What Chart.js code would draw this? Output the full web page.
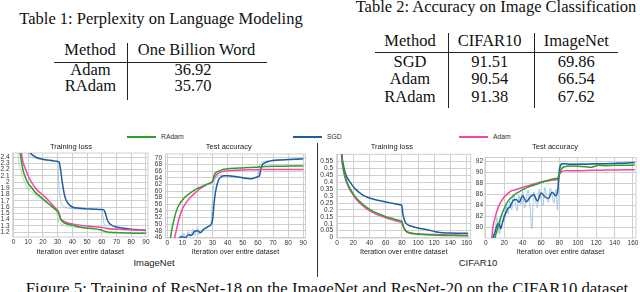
<!DOCTYPE html>
<html>
<head>
<meta charset="utf-8">
<script src="https://cdn.jsdelivr.net/npm/chart.js@4.4.1/dist/chart.umd.min.js"></script>
<style>
  html, body { margin: 0; padding: 0; background: #fff; }
  body { width: 640px; height: 292px; position: relative; overflow: hidden; }
  .txt { position: absolute; white-space: nowrap; }
  .rule { position: absolute; background: #222; }
  canvas { position: absolute; }
</style>
</head>
<body>
<script>
// ---- table data ----
const table1Title = "Table 1: Perplexity on Language Modeling";
const table1Head = ["Method", "One Billion Word"];
const table1Rows = [["Adam", "36.92"], ["RAdam", "35.70"]];

const table2Title = "Table 2: Accuracy on Image Classification";
const table2Head = ["Method", "CIFAR10", "ImageNet"];
const table2Rows = [["SGD", "91.51", "69.86"], ["Adam", "90.54", "66.54"], ["RAdam", "91.38", "67.62"]];

const seriesNames = ["RAdam", "SGD", "Adam"];

// ---- ImageNet training loss ----
const imgLossEpochs = [0, 2, 4, 6, 8, 10, 12, 15, 18, 21, 24, 27, 29, 30, 31, 32, 33, 35, 37, 40, 45, 50, 55, 59, 60, 61, 62, 64, 66, 70, 75, 80, 85, 90];
const imgLossSGD   = [6.9, 5.5, 4.2, 3.3, 2.8, 2.52, 2.45, 2.40, 2.375, 2.36, 2.35, 2.34, 2.333, 2.328, 2.32, 2.2, 2.02, 1.76, 1.66, 1.6, 1.58, 1.57, 1.565, 1.56, 1.56, 1.558, 1.53, 1.38, 1.32, 1.28, 1.26, 1.245, 1.235, 1.225];
const imgLossAdam  = [6.9, 4.8, 2.9, 2.38, 2.22, 2.1, 2.005, 1.9, 1.83, 1.77, 1.7, 1.62, 1.57, 1.55, 1.5, 1.42, 1.39, 1.36, 1.345, 1.33, 1.31, 1.295, 1.285, 1.275, 1.272, 1.27, 1.262, 1.253, 1.248, 1.243, 1.238, 1.235, 1.232, 1.23];
const imgLossRAdam = [6.9, 4.3, 2.7, 2.25, 2.08, 1.98, 1.92, 1.83, 1.77, 1.71, 1.65, 1.59, 1.55, 1.53, 1.48, 1.41, 1.37, 1.34, 1.325, 1.31, 1.28, 1.265, 1.25, 1.235, 1.23, 1.222, 1.212, 1.2, 1.195, 1.19, 1.186, 1.183, 1.18, 1.178];
const imgLossRawSGDEpochs = [8, 10, 15, 20, 25, 29, 30, 31, 32, 33, 35, 40, 50, 60, 61, 62, 64, 70, 80, 90];
const imgLossRawSGD       = [2.6, 2.44, 2.38, 2.355, 2.34, 2.33, 2.33, 1.9, 1.7, 1.63, 1.595, 1.575, 1.565, 1.56, 1.4, 1.3, 1.27, 1.245, 1.23, 1.22];
const imgLossRawRAdamEpochs = [2, 3, 5, 8, 10, 15, 20, 25, 29, 30, 31, 33, 40, 50, 60, 61, 63, 70, 90];
const imgLossRawRAdam       = [3.2, 2.5, 2.2, 1.98, 1.9, 1.79, 1.71, 1.63, 1.56, 1.45, 1.36, 1.32, 1.285, 1.255, 1.225, 1.2, 1.19, 1.183, 1.175];
const imgLossXTicks = [0, 10, 20, 30, 40, 50, 60, 70, 80, 90];
const imgLossYTicks = [1.2, 1.3, 1.4, 1.5, 1.6, 1.7, 1.8, 1.9, 2.0, 2.1, 2.2, 2.3, 2.4];

// ---- ImageNet test accuracy ----
const imgAccEpochs = [0, 2, 4, 6, 8, 10, 12, 14, 16, 18, 20, 22, 24, 26, 28, 29, 30, 31, 32, 34, 36, 38, 40, 45, 50, 53, 56, 59, 61, 62, 63, 64, 66, 70, 75, 80, 85, 90];
const imgAccRAdam = [36, 45.5, 50.5, 54.0, 56.0, 57.3, 58.3, 59.0, 59.7, 60.3, 60.8, 61.2, 61.6, 62.0, 62.4, 62.6, 63.0, 64.8, 65.5, 66.0, 66.4, 66.6, 66.75, 66.9, 67.0, 67.1, 67.15, 67.2, 67.25, 67.3, 67.35, 67.4, 67.45, 67.5, 67.5, 67.55, 67.55, 67.6];
const imgAccAdam  = [32, 38, 44, 48.2, 52.0, 54.6, 56.2, 57.4, 58.4, 59.3, 60.1, 60.8, 61.4, 61.9, 62.3, 62.5, 62.8, 63.9, 64.6, 65.4, 65.8, 66.0, 66.15, 66.3, 66.35, 66.4, 66.4, 66.45, 66.45, 66.5, 66.5, 66.5, 66.5, 66.5, 66.5, 66.5, 66.5, 66.5];
const imgAccSGD   = [30, 36, 40, 43, 45.8, 46.2, 45.9, 46.8, 46.6, 47.8, 48.0, 47.4, 48.4, 49.0, 49.5, 49.8, 51.5, 56.5, 60.0, 63.4, 64.4, 64.6, 64.6, 64.4, 64.0, 63.8, 63.7, 64.2, 64.6, 66.8, 68.0, 68.4, 68.8, 69.2, 69.4, 69.5, 69.6, 69.75];
const imgAccRawSGDEpochs = [8, 9, 10, 11, 12, 13, 14, 15, 16, 17, 18, 19, 20, 21, 22, 23, 24, 25, 26, 27, 28, 29, 30, 31, 32, 34, 36, 40, 50, 55, 60, 61, 62, 65, 70, 80, 90];
const imgAccRawSGD       = [45.5, 46.8, 45.8, 47.2, 45.9, 46.6, 47.8, 46.2, 47.0, 48.5, 46.5, 47.8, 48.8, 46.9, 48.2, 47.5, 48.6, 48.9, 48.4, 49.3, 49.6, 50.2, 58, 62.5, 64.0, 64.6, 64.8, 64.6, 64.0, 63.8, 64.6, 67.5, 68.5, 69.0, 69.3, 69.6, 69.9];
const imgAccXTicks = [0, 10, 20, 30, 40, 50, 60, 70, 80, 90];
const imgAccYTicks = [46, 48, 50, 52, 54, 56, 58, 60, 62, 64, 66, 68, 70];

// ---- CIFAR10 training loss ----
const cifLossEpochs = [0, 2, 4, 6, 8, 10, 12, 15, 18, 22, 26, 30, 35, 40, 50, 60, 70, 78, 80, 81, 82, 84, 86, 90, 95, 100, 110, 120, 125, 130, 140, 150, 160, 162];
const cifLossSGD   = [2.3, 1.5, 0.9, 0.6, 0.52, 0.47, 0.44, 0.41, 0.385, 0.355, 0.333, 0.315, 0.298, 0.286, 0.27, 0.258, 0.247, 0.238, 0.232, 0.18, 0.15, 0.115, 0.098, 0.086, 0.077, 0.07, 0.058, 0.045, 0.038, 0.035, 0.033, 0.032, 0.031, 0.03];
const cifLossAdam  = [2.3, 1.4, 0.8, 0.56, 0.48, 0.43, 0.395, 0.355, 0.325, 0.29, 0.262, 0.24, 0.215, 0.195, 0.165, 0.143, 0.125, 0.112, 0.108, 0.09, 0.075, 0.055, 0.045, 0.035, 0.03, 0.027, 0.024, 0.022, 0.021, 0.02, 0.019, 0.018, 0.017, 0.017];
const cifLossRAdam = [2.3, 1.45, 0.85, 0.58, 0.49, 0.44, 0.405, 0.365, 0.335, 0.3, 0.272, 0.25, 0.226, 0.205, 0.175, 0.152, 0.135, 0.122, 0.118, 0.1, 0.08, 0.055, 0.042, 0.032, 0.027, 0.024, 0.02, 0.018, 0.017, 0.016, 0.015, 0.014, 0.013, 0.013];
const cifLossXTicks = [0, 20, 40, 60, 80, 100, 120, 140, 160];
const cifLossYTicks = [0, 0.05, 0.1, 0.15, 0.2, 0.25, 0.3, 0.35, 0.4, 0.45, 0.5, 0.55];

// ---- CIFAR10 test accuracy ----
const cifAccEpochs = [0, 5, 8, 10, 12, 14, 16, 18, 20, 22, 24, 26, 28, 30, 33, 36, 40, 44, 48, 52, 56, 60, 64, 68, 72, 76, 78, 79, 80, 81, 82, 83, 85, 88, 92, 100, 108, 114, 118, 122, 130, 140, 150, 162];
const cifAccSGD   = [70, 74, 78.2, 79.2, 80.4, 80.8, 79.8, 80.9, 82.0, 82.8, 83.5, 83.7, 84.4, 85.0, 85.1, 84.6, 85.8, 84.7, 85.5, 86.0, 84.8, 86.3, 85.6, 85.3, 86.4, 85.8, 86.6, 88.5, 90.4, 91.2, 91.5, 91.6, 91.6, 91.55, 91.5, 91.5, 91.5, 91.55, 91.6, 91.6, 91.6, 91.65, 91.7, 91.8];
const cifAccAdam  = [70, 76, 80.5, 81.8, 83.0, 83.9, 84.6, 85.1, 85.6, 85.9, 86.2, 86.5, 86.7, 86.8, 86.9, 87.1, 87.3, 87.5, 87.7, 87.9, 88.1, 88.3, 88.4, 88.5, 88.6, 88.7, 88.7, 89.1, 89.6, 89.9, 90.1, 90.2, 90.3, 90.35, 90.3, 90.3, 90.35, 90.4, 90.4, 90.4, 90.45, 90.45, 90.5, 90.5];
const cifAccRAdam = [68, 73, 76.5, 78.2, 79.5, 80.7, 81.8, 82.7, 83.5, 84.2, 84.8, 85.2, 85.5, 85.8, 86.2, 86.5, 86.9, 87.2, 87.5, 87.7, 87.9, 88.2, 88.4, 88.6, 88.8, 88.9, 89.0, 89.3, 89.8, 90.3, 90.6, 90.8, 91.0, 91.15, 91.2, 91.15, 91.05, 90.95, 91.1, 91.3, 91.25, 91.3, 91.3, 91.35];
const cifAccRawSGDEpochs = [8, 10, 12, 13, 14, 15, 16, 18, 20, 22, 24, 26, 28, 30, 32, 34, 36, 38, 40, 42, 44, 46, 48, 50, 52, 54, 56, 58, 60, 62, 64, 66, 68, 70, 72, 74, 76, 78, 79, 80, 81, 82, 84, 88, 100, 120, 140, 162];
const cifAccRawSGD       = [77.8, 79.5, 81.8, 79.0, 80.5, 78.8, 81.2, 82.5, 81.0, 84.0, 82.5, 84.8, 83.2, 86.0, 84.5, 83.0, 85.8, 84.2, 86.6, 83.5, 85.2, 86.8, 83.8, 79.8, 86.5, 84.8, 83.6, 87.0, 85.0, 84.0, 87.3, 85.5, 84.6, 87.2, 86.0, 84.4, 87.0, 83.2, 87.5, 91.2, 91.8, 91.5, 91.7, 91.5, 91.6, 91.5, 91.7, 91.8];
const cifAccXTicks = [0, 20, 40, 60, 80, 100, 120, 140, 160];
const cifAccYTicks = [80, 82, 84, 86, 88, 90, 92];

// ---- styling ----
const serif = '"Liberation Serif", "Times New Roman", serif';
const sans = '"Liberation Sans", Arial, Helvetica, sans-serif';
const green = "#2e9e2e", blue = "#1c5d9c", pink = "#fa44a2";
const lightGreen = "#a9dba9", lightBlue = "#a3c6e6";
const gridColor = "#cfcfcf";

function text(str, cx, base, family, size, color, anchor) {
  const d = document.createElement("div");
  d.className = "txt";
  d.textContent = str;
  const k = family === serif ? 0.8375 : 0.8465;
  d.style.fontFamily = family;
  d.style.fontSize = size + "px";
  d.style.lineHeight = size + "px";
  d.style.color = color;
  d.style.left = cx + "px";
  d.style.top = (base - k * size) + "px";
  if (anchor !== "start") d.style.transform = "translateX(-50%)";
  document.body.appendChild(d);
}
function rule(x, y, w, h, color) {
  const d = document.createElement("div");
  d.className = "rule";
  d.style.left = x + "px"; d.style.top = y + "px";
  d.style.width = w + "px"; d.style.height = h + "px";
  if (color) d.style.background = color;
  document.body.appendChild(d);
}

// Table 1
text(table1Title, 161, 25, serif, 16.5, "#111");
[90, 196.5].forEach((cx, i) => text(table1Head[i], cx, 56, serif, 16.5, "#111"));
table1Rows.forEach((row, r) => {
  const base = [76, 91.7][r];
  text(row[0], 90.5, base, serif, 16.5, "#111");
  text(row[1], 193, base, serif, 16.5, "#111");
});
rule(54, 61.5, 213, 1);
rule(126.5, 43, 1, 57);

// Table 2
text(table2Title, 496, 13.3, serif, 16.5, "#111");
const t2Cols = [410, 489.7, 576.3];
t2Cols.forEach((cx, i) => text(table2Head[i], cx, 47.3, serif, 16.5, "#111"));
table2Rows.forEach((row, r) => {
  const base = [67.7, 85, 102.7][r];
  row.forEach((v, i) => text(v, t2Cols[i], base, serif, 16.5, "#111"));
});
rule(375, 52, 243, 1);
rule(447.5, 33, 1, 75);
rule(533.5, 33, 1, 75);

// shared legend
const legendItems = [[127, green], [293, blue], [459, pink]];
legendItems.forEach((it, i) => {
  rule(it[0], 136.3, 29, 1.6, it[1]);
  text(seriesNames[i], it[0] + 34, 139.6, sans, 6.8, "#333", "start");
});

// panel names, divider, caption
text("ImageNet", 154, 266.4, sans, 9.5, "#222");
text("CIFAR10", 478, 266.4, sans, 9.5, "#222");
rule(317, 143, 1, 134, "#333");
text("Figure 5: Training of ResNet-18 on the ImageNet and ResNet-20 on the CIFAR10 dataset.", 329, 294.6, serif, 16.8, "#111");

// ---- charts ----
function pts(xs, ys) { return xs.map((x, i) => ({ x: x, y: ys[i] })); }
function line(label, xs, ys, color, width, order) {
  return {
    label: label, data: pts(xs, ys), borderColor: color, backgroundColor: color,
    borderWidth: width, pointRadius: 0, cubicInterpolationMode: "monotone", order: order
  };
}
const fmt = v => String(Math.round(v * 100) / 100);

const frame = {
  id: "frame",
  beforeDatasetsDraw(chart) {
    const a = chart.chartArea, ctx = chart.ctx;
    ctx.save();
    ctx.strokeStyle = gridColor;
    ctx.lineWidth = 1;
    ctx.strokeRect(a.left, a.top, a.right - a.left, a.bottom - a.top);
    ctx.restore();
  }
};

function panel(p) {
  const c = document.createElement("canvas");
  c.width = p.w; c.height = 122;
  c.style.left = p.left + "px"; c.style.top = "140px";
  c.style.width = p.w + "px"; c.style.height = "122px";
  document.body.appendChild(c);
  return new Chart(c, {
    type: "line",
    data: { datasets: p.datasets },
    options: {
      responsive: false,
      animation: false,
      events: [],
      layout: { padding: { left: 0, right: p.padRight, top: 0, bottom: 0 } },
      plugins: {
        legend: { display: false },
        tooltip: { enabled: false },
        title: {
          display: true, text: p.title, color: "#222",
          font: { family: sans, size: 7.5, weight: "normal" },
          padding: { top: 2.5, bottom: p.plotTop - 140 - 2.5 - 9 }
        }
      },
      scales: {
        x: {
          type: "linear", min: p.xMin, max: p.xMax,
          afterBuildTicks: s => { s.ticks = p.xTicks.map(v => ({ value: v })); },
          afterFit: s => { s.height = 262 - p.plotBottom; },
          grid: { color: gridColor, lineWidth: 1, drawTicks: false },
          border: { display: false },
          ticks: { color: "#333", font: { family: sans, size: 6.5 }, padding: 1, maxRotation: 0, autoSkip: false, callback: fmt },
          title: {
            display: true, text: "Iteration over entire dataset", color: "#222",
            font: { family: sans, size: 7.2 }, padding: { top: 0, bottom: 6 }
          }
        },
        y: {
          type: "linear", min: p.yMin, max: p.yMax,
          afterBuildTicks: s => { s.ticks = p.yTicks.map(v => ({ value: v })); },
          afterFit: s => { s.width = p.plotLeft - p.left; },
          grid: { color: gridColor, lineWidth: 1, drawTicks: false },
          border: { display: false },
          ticks: { color: "#333", font: { family: sans, size: 6.5 }, padding: p.yPad, autoSkip: false, callback: fmt }
        }
      }
    },
    plugins: [frame]
  });
}

panel({
  left: -6, w: 158, padRight: 4, plotLeft: 12.7, plotTop: 153, plotBottom: 237, yPad: 3.2,
  title: "Training loss", xMin: -0.5, xMax: 91.4, yMin: 1.12, yMax: 2.464,
  xTicks: imgLossXTicks, yTicks: imgLossYTicks,
  datasets: [
    line(seriesNames[0], imgLossEpochs, imgLossRAdam, green, 1.5, 1),
    line(seriesNames[2], imgLossEpochs, imgLossAdam, pink, 1.5, 2),
    line(seriesNames[1], imgLossEpochs, imgLossSGD, blue, 1.5, 3),
    line("RAdam raw", imgLossRawRAdamEpochs, imgLossRawRAdam, lightGreen, 1, 4),
    line("SGD raw", imgLossRawSGDEpochs, imgLossRawSGD, lightBlue, 1, 5)
  ]
});

panel({
  left: 152, w: 166, padRight: 12.5, plotLeft: 165.5, plotTop: 154, plotBottom: 238, yPad: 3.5,
  title: "Test accuracy", xMin: -1.2, xMax: 91.5, yMin: 45.8, yMax: 71.2,
  xTicks: imgAccXTicks, yTicks: imgAccYTicks,
  datasets: [
    line(seriesNames[0], imgAccEpochs, imgAccRAdam, green, 1.5, 1),
    line(seriesNames[2], imgAccEpochs, imgAccAdam, pink, 1.5, 2),
    line(seriesNames[1], imgAccEpochs, imgAccSGD, blue, 1.5, 3),
    line("SGD raw", imgAccRawSGDEpochs, imgAccRawSGD, lightBlue, 1, 5)
  ]
});

panel({
  left: 313, w: 162, padRight: 4.3, plotLeft: 336.7, plotTop: 154.3, plotBottom: 238, yPad: 3.7,
  title: "Training loss", xMin: -0.5, xMax: 165, yMin: -0.003, yMax: 0.603,
  xTicks: cifLossXTicks, yTicks: cifLossYTicks,
  datasets: [
    line(seriesNames[0], cifLossEpochs, cifLossRAdam, green, 1.5, 1),
    line(seriesNames[2], cifLossEpochs, cifLossAdam, pink, 1.5, 2),
    line(seriesNames[1], cifLossEpochs, cifLossSGD, blue, 1.5, 3)
  ]
});

panel({
  left: 474, w: 166, padRight: 4, plotLeft: 485, plotTop: 157.5, plotBottom: 238, yPad: 2,
  title: "Test accuracy", xMin: -1, xMax: 163.3, yMin: 78.1, yMax: 92.73,
  xTicks: cifAccXTicks, yTicks: cifAccYTicks,
  datasets: [
    line(seriesNames[0], cifAccEpochs, cifAccRAdam, green, 1.5, 1),
    line(seriesNames[1], cifAccEpochs, cifAccSGD, blue, 1.5, 2),
    line(seriesNames[2], cifAccEpochs, cifAccAdam, pink, 1.5, 3),
    line("SGD raw", cifAccRawSGDEpochs, cifAccRawSGD, lightBlue, 1, 5)
  ]
});
</script>
</body>
</html>
